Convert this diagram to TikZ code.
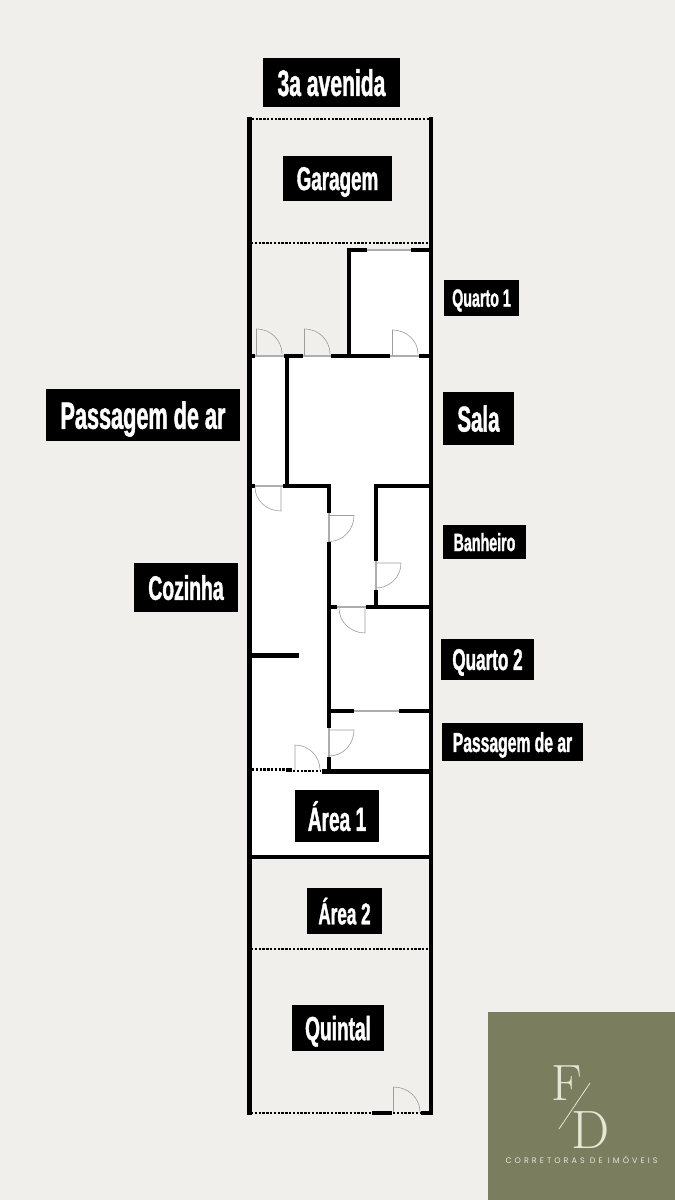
\documentclass[tikz,border=0pt]{standalone}
\usepackage{fontspec}
\newfontfamily\labelfont[FakeStretch=0.57,FakeBold=1.2]{Liberation Sans}
\newfontfamily\logofont[LetterSpace=38]{Poppins}
\definecolor{paper}{HTML}{F0EFEB}
\definecolor{olive}{HTML}{7A7E5F}
\definecolor{cream}{HTML}{E6E6D5}
\tikzset{
  wall/.style={line width=4.6pt},
  thinwall/.style={line width=4.2pt},
  sill/.style={line width=1.8pt, color=black!32},
  leaf/.style={line width=0.6pt, color=black!38},
  dotwall/.style={line width=2.6pt, dash pattern=on 2.4pt off 1.4pt},
  namebox/.style={fill=black, text=white, inner sep=0pt, align=center, text depth=0pt},
}
\newcommand{\namefont}[1]{\labelfont\bfseries\fontsize{#1}{#1}\selectfont}
\begin{document}
\begin{tikzpicture}[x=1pt,y=-1pt]
\useasboundingbox (0,0) rectangle (675,1200);
\fill [paper] (0,0) rectangle (675,1200);
\fill [white] (251,356) rectangle (431,857);
\fill [white] (349,250) rectangle (431,356);

% dotted limits
\draw [dotwall] (248,119) -- (432,119);
\draw [dotwall] (251,243) -- (430,243);
\draw [dotwall] (251,949) -- (430,949);
\draw [dotwall] (251,1113) -- (372,1113);
\draw [dotwall] (393,1113) -- (420,1113);
\draw [dotwall] (252,769.5) -- (286,769.5);
\draw [dotwall] (293,771) -- (321,771);

% outer walls
\draw [wall] (249.5,117) -- (249.5,1115);
\draw [wall] (431,117) -- (431,1115);

% quarto 1
\draw [thinwall] (349,248) -- (349,356);
\draw [thinwall] (347,250) -- (367,250);
\draw [thinwall] (411,250) -- (430,250);
\draw [sill] (367,250) -- (411,250);

% wall below the entrance
\draw [thinwall] (251,356) -- (255,356);
\draw [thinwall] (284,356) -- (303,356);
\draw [thinwall] (331,356) -- (390,356);
\draw [thinwall] (419,356) -- (430,356);
\draw [sill] (255,356) -- (284,356);
\draw [sill] (303,356) -- (331,356);
\draw [sill] (390,356) -- (419,356);
\draw [leaf] (256.5,355) -- (256.5,329) to[out=0,in=90] (282,354);
\draw [leaf] (304.5,355) -- (304.5,329) to[out=0,in=90] (330,354);
\draw [leaf] (392.5,355) -- (392.5,330) to[out=0,in=90] (418,354);

% sala and passagem
\draw [thinwall] (287,356) -- (287,486);
\draw [thinwall] (251,486) -- (255,486);
\draw [thinwall] (283,486) -- (331,486);
\draw [sill] (255,486) -- (283,486);
\draw [leaf] (281,487) -- (281,511) to[out=180,in=270] (255,487);

% cozinha wall
\draw [thinwall] (329,484) -- (329,513);
\draw [thinwall] (329,542) -- (329,728);
\draw [thinwall] (329,757) -- (329,773);
\draw [sill] (329,513) -- (329,542);
\draw [sill] (329,728) -- (329,757);
\draw [leaf] (329,515.5) -- (354,515.5) to[out=270,in=0] (329,541.5);
\draw [leaf] (329,730) -- (354,730) to[out=270,in=0] (329,756);
\draw [thinwall] (251,655.5) -- (298.5,655.5);

% banheiro
\draw [thinwall] (374,486) -- (430,486);
\draw [thinwall] (376,486) -- (376,561);
\draw [thinwall] (376,590) -- (376,607);
\draw [sill] (376,561) -- (376,590);
\draw [leaf] (376,563) -- (401,563) to[out=270,in=0] (376,588);

% quarto 2
\draw [thinwall] (329,607) -- (337,607);
\draw [thinwall] (366,607) -- (430,607);
\draw [sill] (337,607) -- (366,607);
\draw [leaf] (365,608) -- (365,633) to[out=180,in=270] (339,608);
\draw [thinwall] (329,711) -- (354,711);
\draw [thinwall] (399,711) -- (430,711);
\draw [sill] (354,711) -- (399,711);

% back of the house
\draw [thinwall] (322,771.5) -- (430,771.5);
\draw [thinwall] (286,770) -- (292,770);
\draw [leaf] (295,770) -- (295,745) to[out=0,in=90] (320,770);
\draw [thinwall] (251,857) -- (430,857);

% quintal gate
\draw [thinwall] (372,1113) -- (392,1113);
\draw [thinwall] (421,1113) -- (430,1113);
\draw [leaf] (393.5,1112) -- (393.5,1087) to[out=0,in=90] (420,1112);

% names
\node [namebox, minimum width=137pt, minimum height=49pt, font=\namefont{37}] (avenida) at (331.5,82.5) {3a avenida};
\node [namebox, minimum width=109pt, minimum height=45pt, font=\namefont{33}] (garagem) at (337.5,178.5) {Garagem};
\node [namebox, minimum width=75pt, minimum height=36pt, font=\namefont{25}] (quarto1) at (481.5,298) {Quarto 1};
\node [namebox, minimum width=194pt, minimum height=52pt, font=\namefont{38}] (passagem1) at (143,415) {Passagem de ar};
\node [namebox, minimum width=71pt, minimum height=53pt, font=\namefont{36}] (sala) at (478.5,418.5) {Sala};
\node [namebox, minimum width=83pt, minimum height=34pt, font=\namefont{25}] (banheiro) at (484.5,542) {Banheiro};
\node [namebox, minimum width=104pt, minimum height=49pt, font=\namefont{34}] (cozinha) at (186,587.5) {Cozinha};
\node [namebox, minimum width=93pt, minimum height=41pt, font=\namefont{30}] (quarto2) at (487.5,659.5) {Quarto 2};
\node [namebox, minimum width=141pt, minimum height=38pt, font=\namefont{27.5}] (passagem2) at (512.5,742) {Passagem de ar};
\node [namebox, minimum width=84pt, minimum height=52pt, font=\namefont{33.5}] (area1) at (337,816) {Área 1};
\node [namebox, minimum width=75pt, minimum height=46pt, font=\namefont{30}] (area2) at (344.5,911) {Área 2};
\node [namebox, minimum width=92pt, minimum height=46pt, font=\namefont{33.5}] (quintal) at (338,1028) {Quintal};

% logo
\fill [olive] (488,1012) rectangle (675,1200);
\node [text=cream, font=\fontsize{51}{51}\selectfont] (logoF) at (567,1083) {F};
\node [text=cream, font=\fontsize{54}{54}\selectfont] (logoD) at (591,1130) {D};
\draw [cream, line width=0.8pt] (590,1083) -- (559,1129);
\node [text=cream, font=\logofont\fontsize{8}{8}\selectfont] (corretoras) at (581.5,1160) {CORRETORAS DE IMÓVEIS};
\end{tikzpicture}
\end{document}
